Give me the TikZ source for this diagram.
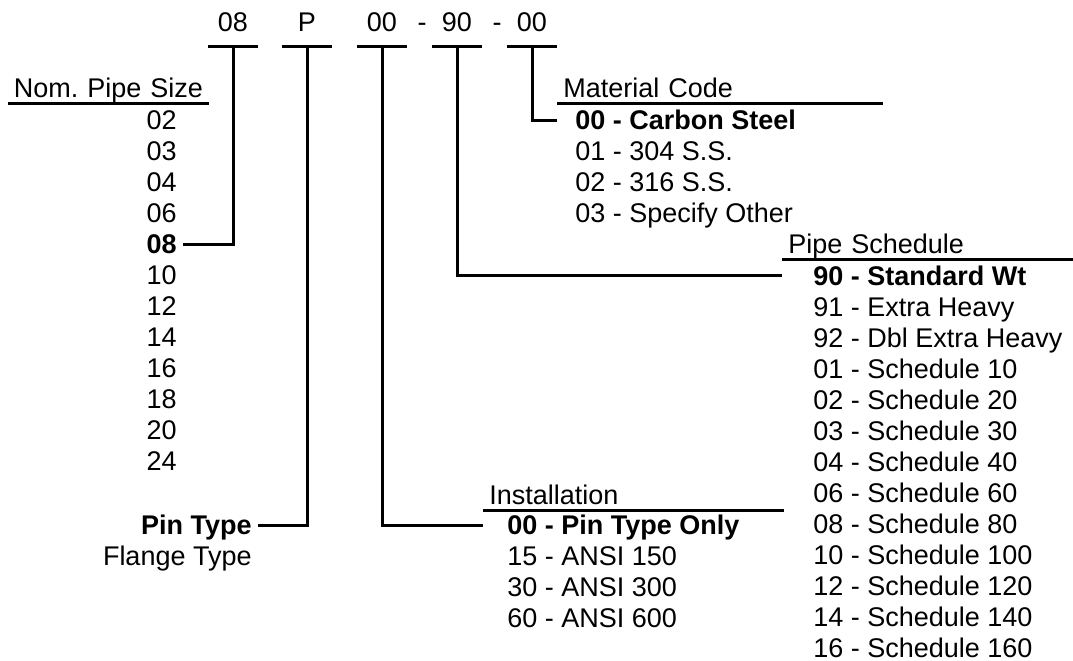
\documentclass[tikz,border=0pt]{standalone}
\usepackage{fontspec}
\setmainfont{Liberation Sans}
\usetikzlibrary{positioning}

\tikzset{
  every node/.style={font=\fontsize{13.5}{16}\selectfont, inner sep=0pt,
                     text height=9.7pt, text depth=0pt},
  code/.style={minimum width=25pt, text depth=7.2pt, anchor=south},
  head/.style={inner xsep=3pt, text depth=2.7pt, anchor=south west, align=left},
  lst/.style={inner xsep=3pt},
  nextL/.style={below=of #1.west, anchor=west, lst},
  nextR/.style={below=of #1.east, anchor=east, lst},
  rule/.style={line width=1.5pt},
}

\begin{document}
\begin{tikzpicture}[x=0.5pt, y=-0.5pt, node distance=15.5pt]
    \useasboundingbox (0,0) rectangle (1073,660);
    % part number
    \node[code] (c0) at (233,46) {08};
    \node[code] (c1) at (307,46) {P};
    \node[code] (c2) at (382,46) {00};
    \node[code, minimum width=0pt] (d1) at (422,46) {-};
    \node[code] (c3) at (457,46) {90};
    \node[code, minimum width=0pt] (d2) at (497,46) {-};
    \node[code] (c4) at (532,46) {00};
    % headings
    \node[head, inner xsep=0pt, text width=100pt, align=center] (hn) at (8,103) {Nom.\ Pipe Size};
    \node[head, text width=156.5pt] (hm) at (557,103) {Material Code};
    \node[head, text width=139.5pt] (hp) at (782,259) {Pipe Schedule};
    \node[head, text width=144pt] (hi) at (483,510) {Installation};
    % pipe sizes
    \node[lst, anchor=east] (s1) at (183,120) {02};
    \node[nextR=s1] (s2) {03};
    \node[nextR=s2] (s3) {04};
    \node[nextR=s3] (s4) {06};
    \node[nextR=s4] (s5) {\textbf{08}};
    \node[nextR=s5] (s6) {10};
    \node[nextR=s6] (s7) {12};
    \node[nextR=s7] (s8) {14};
    \node[nextR=s8] (s9) {16};
    \node[nextR=s9] (s10) {18};
    \node[nextR=s10] (s11) {20};
    \node[nextR=s11] (s12) {24};
    % flange
    \node[lst, anchor=east] (f1) at (258,525) {\textbf{Pin Type}};
    \node[nextR=f1] (f2) {Flange Type};
    % installation
    \node[lst, anchor=west] (i1) at (501,525) {\textbf{00 - Pin Type Only}};
    \node[nextL=i1] (i2) {15 - ANSI 150};
    \node[nextL=i2] (i3) {30 - ANSI 300};
    \node[nextL=i3] (i4) {60 - ANSI 600};
    % material
    \node[lst, anchor=west] (m1) at (569,120) {\textbf{00 - Carbon Steel}};
    \node[nextL=m1] (m2) {01 - 304 S.S.};
    \node[nextL=m2] (m3) {02 - 316 S.S.};
    \node[nextL=m3] (m4) {03 - Specify Other};
    % schedule
    \node[lst, anchor=west] (p1) at (807,275.5) {\textbf{90 - Standard Wt}};
    \node[nextL=p1] (p2) {91 - Extra Heavy};
    \node[nextL=p2] (p3) {92 - Dbl Extra Heavy};
    \node[nextL=p3] (p4) {01 - Schedule 10};
    \node[nextL=p4] (p5) {02 - Schedule 20};
    \node[nextL=p5] (p6) {03 - Schedule 30};
    \node[nextL=p6] (p7) {04 - Schedule 40};
    \node[nextL=p7] (p8) {06 - Schedule 60};
    \node[nextL=p8] (p9) {08 - Schedule 80};
    \node[nextL=p9] (p10) {10 - Schedule 100};
    \node[nextL=p10] (p11) {12 - Schedule 120};
    \node[nextL=p11] (p12) {14 - Schedule 140};
    \node[nextL=p12] (p13) {16 - Schedule 160};
    % bars and underlines
    \draw[rule] (c0.south west) -- (c0.south east)
                (c1.south west) -- (c1.south east)
                (c2.south west) -- (c2.south east)
                (c3.south west) -- (c3.south east)
                (c4.south west) -- (c4.south east)
                (hn.south west) -- (hn.south east)
                (hm.south west) -- (hm.south east)
                (hp.south west) -- (hp.south east)
                (hi.south west) -- (hi.south east);
    % leaders
    \draw[rule] (c0.south) |- (s5.east)
                (c1.south) |- (f1.east)
                (c2.south) |- (i1.west -| hi.west)
                (c3.south) |- (p1.west -| hp.west)
                (c4.south) |- (m1.west -| hm.west);
\end{tikzpicture}
\end{document}
